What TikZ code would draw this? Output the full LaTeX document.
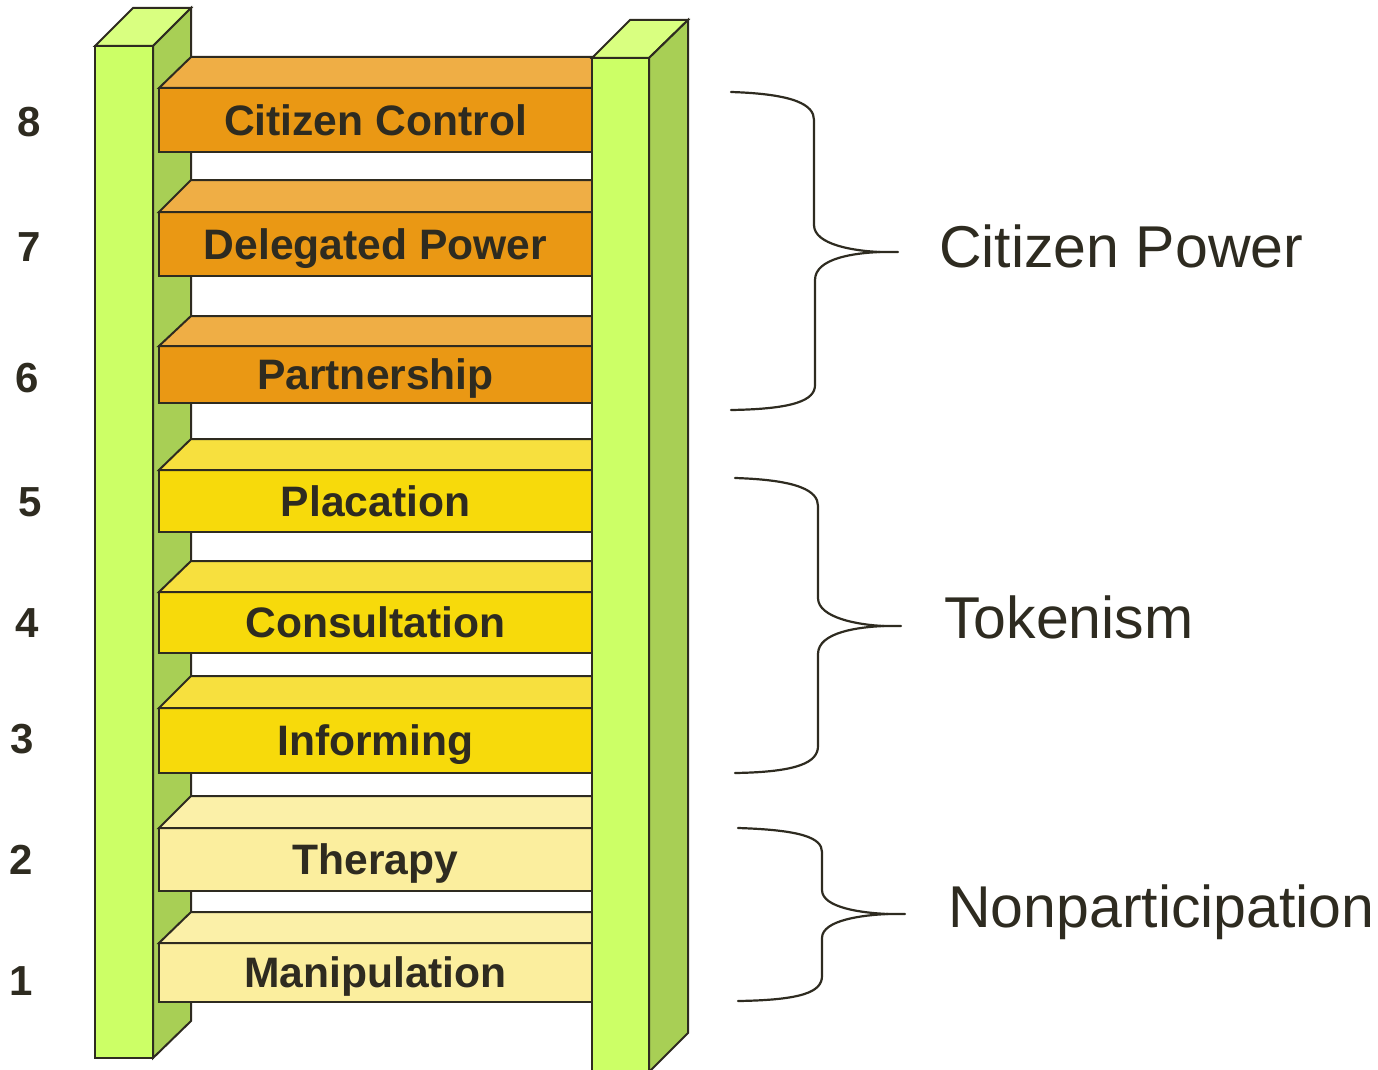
\documentclass[tikz,border=0pt]{standalone}
\usepackage{fontspec}
\setmainfont{Liberation Sans}
\definecolor{ink}{HTML}{2E2B20}
\definecolor{railF}{HTML}{CCFF66}
\definecolor{railT}{HTML}{D9FF80}
\definecolor{railS}{HTML}{A8CF55}
\definecolor{orF}{HTML}{EA9814}
\definecolor{orT}{HTML}{EFAE45}
\definecolor{yeF}{HTML}{F7DA0B}
\definecolor{yeT}{HTML}{F7E03E}
\definecolor{paF}{HTML}{FBEE9E}
\definecolor{paT}{HTML}{FBF0A8}
\tikzset{
  edge/.style={draw=ink, line width=2pt, line join=miter},
  rungbox/.style={edge, anchor=north west, minimum width=433pt, inner sep=0pt, outer sep=0pt,
    text=ink, text height=30.5pt, text depth=0pt, font=\fontsize{42.6}{50}\selectfont\bfseries},
  numlab/.style={text=ink, inner sep=0pt, font=\fontsize{42}{50}\selectfont\bfseries},
  grouplab/.style={text=ink, inner sep=0pt, anchor=west, font=\fontsize{59}{66}\selectfont},
  bracepath/.style={draw=ink, line width=2.2pt, line cap=round}
}
\newcommand{\rungdraw}[7]{% name, back y, front top y, height, front colour, top colour, label
  \node[rungbox, fill=#5, minimum height=#4pt] (#1) at (159,#3) {#7};
  \filldraw[edge, fill=#6] (#1.north west) -- (191,#2) -- (592,#2) -- (#1.north east) -- cycle;
}
\begin{document}
\begin{tikzpicture}[x=1pt,y=-1pt]
\useasboundingbox (0,0) rectangle (1378,1070);
\clip (0,0) rectangle (1378,1070);
% left rail
\filldraw[edge, fill=railF] (95,46) -- (153,46) -- (153,1058) -- (95,1058) -- cycle;
\filldraw[edge, fill=railT] (95,46) -- (133,8) -- (191,8) -- (153,46) -- cycle;
\filldraw[edge, fill=railS] (153,46) -- (191,8) -- (191,1021) -- (153,1058) -- cycle;
% rungs
\rungdraw{r8}{57}{88}{64}{orF}{orT}{Citizen Control}
\rungdraw{r7}{180}{212}{64}{orF}{orT}{Delegated Power}
\rungdraw{r6}{316}{346}{57}{orF}{orT}{Partnership}
\rungdraw{r5}{439}{470}{62}{yeF}{yeT}{Placation}
\rungdraw{r4}{561}{592}{61}{yeF}{yeT}{Consultation}
\rungdraw{r3}{676}{708}{65}{yeF}{yeT}{Informing}
\rungdraw{r2}{796}{828}{63}{paF}{paT}{Therapy}
\rungdraw{r1}{912}{943}{59}{paF}{paT}{Manipulation}
% right rail
\filldraw[edge, fill=railF] (592,58) -- (649,58) -- (649,1080) -- (592,1080) -- cycle;
\filldraw[edge, fill=railT] (592,58) -- (630,20) -- (688,20) -- (649,58) -- cycle;
\filldraw[edge, fill=railS] (649,58) -- (688,20) -- (688,1033) -- (649,1072) -- cycle;
% numbers
\node[numlab] (n8) at (29,122) {8};
\node[numlab] (n7) at (29,247) {7};
\node[numlab] (n6) at (27,378) {6};
\node[numlab] (n5) at (30,502) {5};
\node[numlab] (n4) at (27,623) {4};
\node[numlab] (n3) at (22,739) {3};
\node[numlab] (n2) at (21,860) {2};
\node[numlab] (n1) at (21,981) {1};
% braces
\draw[bracepath] (731,92) .. controls (795,94) and (814,105) .. (814,120) -- (814,225)
  .. controls (814,245) and (855,251) .. (880,252) -- (898,252);
\draw[bracepath] (880,252) .. controls (855,253) and (815,258) .. (815,280) -- (815,385)
  .. controls (815,400) and (795,409) .. (731,410);
\draw[bracepath] (735,478) .. controls (799,480) and (818,491) .. (818,506) -- (818,598)
  .. controls (818,618) and (859,625) .. (884,626) -- (901,626);
\draw[bracepath] (884,626) .. controls (859,627) and (818,632) .. (818,654) -- (818,746)
  .. controls (818,762) and (799,772) .. (735,773);
\draw[bracepath] (738,828) .. controls (802,830) and (822,838) .. (822,852) -- (822,890)
  .. controls (822,908) and (863,913) .. (888,914) -- (905,914);
\draw[bracepath] (888,914) .. controls (863,915) and (822,920) .. (822,938) -- (822,976)
  .. controls (822,992) and (802,1000) .. (738,1001);
% group labels
\node[grouplab] (g1) at (939,246) {Citizen Power};
\node[grouplab] (g2) at (944,617) {Tokenism};
\node[grouplab] (g3) at (948,912) {Nonparticipation};
\end{tikzpicture}
\end{document}
